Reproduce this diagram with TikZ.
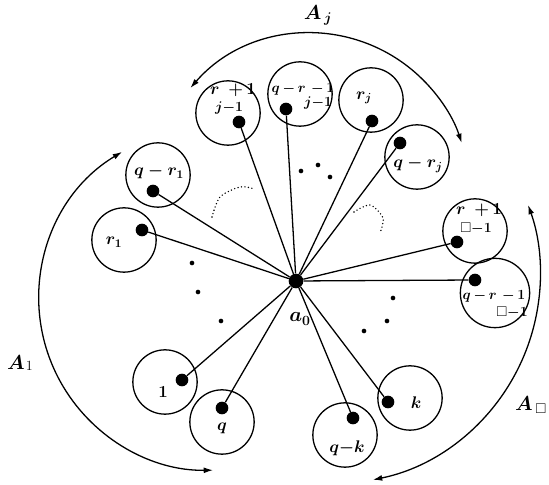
\documentclass[tikz,border=0pt]{standalone}
\usepackage{amsmath, amssymb}
\usepackage{tikz}
\usetikzlibrary{arrows.meta}

\newcommand{\sqsub}{\square}

\begin{document}
\begin{tikzpicture}[
        x=0.03cm, y=0.03cm,
        hub/.style={circle, fill=black, minimum size=0.44cm, inner sep=0pt},
        pt/.style={circle, fill=black, minimum size=0.38cm, inner sep=0pt},
        ring/.style={circle, draw, line width=1.1pt, minimum size=1.93cm, inner sep=0pt},
        spoke/.style={line width=1.1pt},
        lbl/.style={font=\Large\boldmath, inner sep=0pt},
        wide/.style={font=\large\boldmath, inner sep=0pt},
        sub/.style={font=\large\boldmath, inner sep=0pt},
        ell/.style={circle, fill=black, minimum size=4pt, inner sep=0pt},
        faint/.style={line width=1.3pt, line cap=round, dash pattern=on 0pt off 3pt},
        spanarc/.style={line width=1.1pt, {Latex[length=8pt,width=5pt]}-{Latex[length=8pt,width=5pt]}},
        big/.style={font=\LARGE\boldmath, inner sep=0pt}
    ]
        \useasboundingbox (0,0) rectangle (549,485);

        % Centre
        \node[hub] (a0) at (296,204) {};
        \node[big] (a0lbl) at (300,166) {$a_0$};

        % Group A_j
        \node[ring] (c1) at (228,372) {};
        \node[lbl] (l1) at (233,395) {$r\;\,{+}\,1$};
        \node[sub] (s1) at (229,377) {$j{-}1$};
        \node[ring] (c2) at (300,391) {};
        \node[wide] (l2) at (303,396) {$q\,{-}\,r\,\,{-}\,1$};
        \node[sub] (s2) at (318,382) {$j{-}1$};
        \node[ring] (c3) at (371,385) {};
        \node[lbl] (l3) at (364,387) {$r_j$};
        \node[ring] (c4) at (417,328) {};
        \node[lbl] (l4) at (418,320) {$q-r_j$};

        % Group A_1
        \node[ring] (c5) at (158,310) {};
        \node[lbl] (l5) at (159,313) {$q-r_1$};
        \node[ring] (c6) at (124,245) {};
        \node[lbl] (l6) at (114,243) {$r_1$};
        \node[ring] (c9) at (165,103) {};
        \node[lbl] (l9) at (163,93) {$1$};
        \node[ring] (c10) at (222,63) {};
        \node[lbl] (l10) at (222,57) {$q$};

        % Group A_n
        \node[ring] (c7) at (475,254) {};
        \node[lbl] (l7) at (479,275) {$r\;\,{+}\,1$};
        \node[sub] (s7) at (476,256) {$\sqsub{-}1$};
        \node[ring, minimum size=2.08cm] (c8) at (495,192) {};
        \node[wide] (l8) at (494,189) {$q\,{-}\,r\,\,{-}\,1$};
        \node[sub] (s8) at (512,172) {$\sqsub{-}1$};
        \node[ring] (c11) at (345,50) {};
        \node[lbl] (l11) at (347,37) {$q{-}k$};
        \node[ring] (c12) at (410,87) {};
        \node[lbl] (l12) at (416,82) {$k$};

        % Spokes
        \foreach \d/\x/\y in {d1/239/363, d2/286/376, d3/372/364, d4/400/342,
                              d5/153/294, d6/142/255, d7/457/243, d8/475/205,
                              d9/182/105, d10/222/77, d11/353/67, d12/388/83} {
            \node[pt] (\d) at (\x,\y) {};
            \draw[spoke] (a0) -- (\d);
        }

        % Ellipses
        \node[ell] (e1) at (301,314) {};
        \node[ell] (e2) at (318,320) {};
        \node[ell] (e3) at (330,308) {};
        \node[ell] (e4) at (192,222) {};
        \node[ell] (e5) at (198,193) {};
        \node[ell] (e6) at (221,164) {};
        \node[ell] (e7) at (393,187) {};
        \node[ell] (e8) at (387,164) {};
        \node[ell] (e9) at (364,154) {};

        % Dotted turns
        \draw[faint] plot[smooth] coordinates {(212,268) (220,288) (240,298) (255,296)};
        \draw[faint] plot[smooth] coordinates {(354,273) (370,280) (383,267) (380,252)};

        % Arcs
        \coordinate (oj) at (310.5,292.8);
        \coordinate (o1) at (210.4,186.2);
        \coordinate (on) at (331.2,210.0);
        \draw[spanarc] ([shift={(139.1:159)}]oj) arc[start angle=139.1, end angle=18, radius=159];
        \draw[spanarc] ([shift={(121:171.4)}]o1) arc[start angle=121, end angle=270.9, radius=171.4];
        \draw[spanarc] ([shift={(-78.5:209)}]on) arc[start angle=-78.5, end angle=19.6, radius=209];
        \node[big] (aj) at (318,470) {$A_{\,j}$};
        \node[big] (a1) at (20,122) {$A$\kern1pt\raisebox{-1pt}{\large 1}};
        \node[big] (an) at (531,80) {$A_{\,\sqsub}$};
    \end{tikzpicture}
\end{document}
